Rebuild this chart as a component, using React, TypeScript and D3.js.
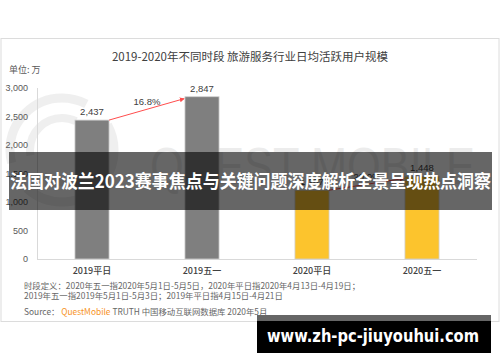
import React from "react";
import * as d3 from "d3";

const categories = ["2019平日", "2019五一", "2020平日", "2020五一"];
const values = [2437, 2847, 1207, 1448];
const valueLabels = ["2,437", "2,847", "1,207", "1,448"];
const barColors = ["#7f7f7f", "#7f7f7f", "#fcc42d", "#fcc42d"];
const yTicks = [0, 500, 1000, 1500, 2000, 2500, 3000];
const growth = [
  { from: 0, to: 1, label: "16.8%" },
  { from: 2, to: 3, label: "20.0%" },
];
const title = "2019-2020年不同时段 旅游服务行业日均活跃用户规模";
const unitLabel = "单位: 万";
const note1 = "时段定义：2020年五一指2020年5月1日-5月5日，2020年平日指2020年4月13日-4月19日；";
const note2 = "2019年五一指2019年5月1日-5月3日；2019年平日指4月15日-4月21日";
const bannerText = "法国对波兰2023赛事焦点与关键问题深度解析全景呈现热点洞察";
const siteText = "www.zh-pc-jiuyouhui.com";

const FONT = "'Liberation Sans', Arial, 'Noto Sans CJK SC', sans-serif";
const CJK = "'Noto Sans CJK SC', 'Liberation Sans', sans-serif";

export default function App() {
  const x0 = 37, x1 = 477, yTop = 88, yBase = 259;
  const x = d3.scaleBand<string>().domain(categories).range([x0, x1]).paddingInner(0.69).paddingOuter(0.345);
  const y = d3.scaleLinear().domain([0, 3000]).range([yBase, yTop]);
  const fmt = d3.format(",");
  const bw = x.bandwidth();

  return (
    <svg width={500} height={362} style={{ position: "absolute", left: 0, top: 0 }}>
      <rect x={0} y={0} width={500} height={362} fill="#fff" />
      <rect x={1} y={38.5} width={498} height={283} fill="#fff" stroke="#dcdcdc" strokeWidth={1} />

      {/* faint QuestMobile watermark */}
      <g opacity={0.06} fill="none" stroke="#000">
        <circle cx={62} cy={150} r={52} strokeWidth={9} strokeDasharray="120 30" />
        <circle cx={62} cy={150} r={32} strokeWidth={8} strokeDasharray="70 25" />
      </g>
      <text x={150} y={184} fontFamily={FONT} fontSize={52} fill="#000" opacity={0.07} textLength={325} lengthAdjust="spacingAndGlyphs">QUEST MOBILE</text>

      <text x={250} y={61} textAnchor="middle" fontFamily={CJK} fontSize={11.5} fill="#404040">{title}</text>
      <text x={9} y={73} fontFamily={CJK} fontSize={9} fill="#595959">{unitLabel}</text>

      {/* axes */}
      <line x1={x0 + 0.5} x2={x0 + 0.5} y1={yTop} y2={yBase} stroke="#d9d9d9" />
      <line x1={x0} x2={x1} y1={yBase + 0.5} y2={yBase + 0.5} stroke="#d9d9d9" />
      {yTicks.map((t) => (
        <text key={t} x={28} y={y(t) + 3} textAnchor="end" fontFamily={FONT} fontSize={9} fill="#595959">{fmt(t)}</text>
      ))}

      {/* bars */}
      {categories.map((c, i) => (
        <g key={c}>
          <rect x={x(c)} y={y(values[i])} width={bw} height={yBase - y(values[i])} fill={barColors[i]} stroke="#d0d0d0" strokeWidth={0.8} />
          <text x={(x(c) as number) + bw / 2} y={y(values[i]) - 5} textAnchor="middle" fontFamily={FONT} fontSize={9.5} fill="#404040">{valueLabels[i]}</text>
          <text x={(x(c) as number) + bw / 2} y={274} textAnchor="middle" fontFamily={CJK} fontSize={9} fontWeight={500} fill="#404040">{c}</text>
        </g>
      ))}

      {/* growth arrows */}
      <defs>
        <marker id="arr" viewBox="0 0 6 6" refX={5} refY={3} markerWidth={5} markerHeight={5} orient="auto">
          <path d="M0,0 L6,3 L0,6 Z" fill="#ff4d4d" />
        </marker>
      </defs>
      {growth.map((g) => {
        const xa = (x(categories[g.from]) as number) + bw;
        const ya = y(values[g.from]);
        const xb = x(categories[g.to]) as number;
        const yb = y(values[g.to]) + 2;
        return (
          <g key={g.label}>
            <line x1={xa} y1={ya} x2={xb - 1} y2={yb} stroke="#ff4d4d" strokeWidth={1} markerEnd="url(#arr)" />
            <text x={(xa + xb) / 2} y={(ya + yb) / 2 - 4} textAnchor="middle" fontFamily={FONT} fontSize={9.5} fill="#404040">{g.label}</text>
          </g>
        );
      })}

      {/* notes */}
      <text x={24} y={289} fontFamily={CJK} fontSize={8.4} fill="#666">{note1}</text>
      <text x={24} y={299} fontFamily={CJK} fontSize={8.4} fill="#666">{note2}</text>
      <text x={24} y={315} fontFamily={CJK} fontSize={8.4} fill="#666">
        Source：<tspan fill="#f7931e"> QuestMobile</tspan> TRUTH 中国移动互联网数据库 2020年5月
      </text>

      {/* overlay banner */}
      <rect x={9} y={152} width={483} height={58} fill="#000" opacity={0.6} />
      <text x={10} y={188} fontFamily={CJK} fontSize={18} fontWeight={700} fill="#fff" textLength={481} lengthAdjust="spacingAndGlyphs">{bannerText}</text>

      {/* site watermark */}
      <rect x={257} y={315} width={234} height={7} fill="#666" />
      <rect x={257} y={321} width={234} height={32} fill="#000" />
      <text x={267} y={342} fontFamily="'DejaVu Sans', sans-serif" fontSize={17} fontWeight={700} fill="#fff" textLength={212} lengthAdjust="spacingAndGlyphs">{siteText}</text>
    </svg>
  );
}
